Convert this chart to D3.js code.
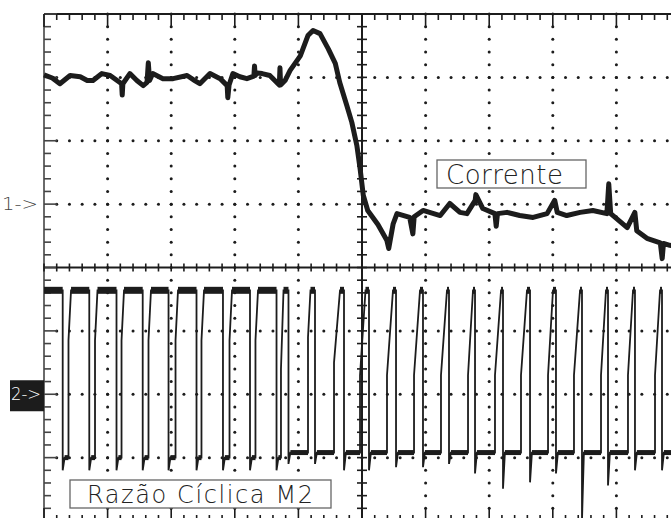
<!DOCTYPE html>
<html><head><meta charset="utf-8">
<script src="https://cdn.jsdelivr.net/npm/d3@7"></script>
<style>html,body{margin:0;padding:0;background:#fff;overflow:hidden}svg{display:block}</style>
</head><body>
<svg id="c" width="671" height="518"></svg>
<script>
// ---- DATA (screen divisions; time 0..10 div, values in div above each channel marker) ----
const channelLabels = ["1->", "2->"];
const traceNames = ["Corrente", "Razão Cíclica M2"];
const channelOffsets = [1, -2];   // marker position of each channel (div from centre)

// Channel 1: current
const corrente = [
 [0,2.04],[0.13,1.99],[0.25,1.90],[0.41,2.03],[0.57,2.01],[0.68,1.95],[0.77,1.95],[0.91,2.06],
 [1.04,2.03],[1.15,1.95],[1.22,1.90],[1.23,1.72],[1.24,1.90],[1.35,2.06],[1.46,1.95],[1.56,1.87],
 [1.62,1.92],[1.64,2.23],[1.66,1.95],[1.71,2.06],[1.87,1.98],[2.03,1.98],[2.25,2.03],[2.37,1.95],
 [2.45,1.90],[2.61,2.06],[2.77,1.98],[2.88,1.87],[2.89,1.68],[2.91,1.88],[2.97,2.06],[3.08,2.01],
 [3.19,1.98],[3.30,2.02],[3.31,2.18],[3.32,2.03],[3.35,2.07],[3.43,2.06],[3.55,2.03],[3.70,1.88],
 [3.71,2.15],[3.72,1.88],[3.79,1.95],[3.87,2.11],[4.03,2.34],[4.15,2.66],[4.23,2.74],[4.34,2.69],
 [4.47,2.45],[4.58,2.22],[4.65,1.92],[4.76,1.56],[4.84,1.29],[4.92,0.92],[4.97,0.56],[5.02,0.14],
 [5.09,-0.10],[5.25,-0.32],[5.39,-0.57],[5.42,-0.70],[5.49,-0.31],[5.55,-0.15],[5.75,-0.21],
 [5.80,-0.47],[5.82,-0.20],[5.96,-0.10],[6.23,-0.18],[6.38,0.01],[6.54,-0.13],[6.65,-0.15],
 [6.78,0.06],[6.79,0.15],[6.90,-0.07],[7.09,-0.15],[7.11,-0.35],[7.13,-0.15],[7.28,-0.13],
 [7.48,-0.18],[7.69,-0.21],[7.91,-0.15],[8.03,0.06],[8.07,-0.13],[8.22,-0.18],[8.43,-0.13],
 [8.63,-0.10],[8.85,-0.15],[8.88,0.32],[8.91,-0.15],[8.98,-0.21],[9.17,-0.37],[9.29,-0.13],
 [9.32,-0.42],[9.48,-0.54],[9.69,-0.61],[9.72,-0.86],[9.74,-0.62],[9.84,-0.65],[10,-0.68]
];

// Channel 2: gate duty cycle pulse train
const ch2High = 1.64;
const pulseRise = [null,0.385,0.802,1.219,1.643,2.068,2.476,2.917,3.325,3.726,4.151,4.560,4.969,5.393,5.818,6.242,6.667,7.091,7.500,7.925,8.333,8.758,9.182,9.607];
const pulseMid  = [null,0.85,0.85,0.85,0.85,0.85,0.85,0.85,0.85,0.40,0.90,0.50,0.30,0.30,0.30,0.30,0.30,0.30,0.30,0.30,0.30,0.30,0.30,0.30];
const pulseTop  = [0,0.425,0.841,1.258,1.682,2.107,2.516,2.956,3.365,3.766,4.190,4.654,5.055,5.487,5.912,6.336,6.745,7.186,7.594,8.003,8.428,8.836,9.261,9.686];
const pulseFall = [0.294,0.712,1.140,1.552,1.958,2.398,2.814,3.239,3.656,3.844,4.261,4.717,5.110,5.535,5.959,6.368,6.777,7.217,7.642,8.050,8.459,8.868,9.292,9.717];
const pulseDip  = [-1.2,-1.2,-1.2,-1.2,-1.2,-1.2,-1.2,-1.2,-1.2,-1.1,-1.1,-1.2,-1.2,-1.15,-1.15,-1.1,-1.25,-1.49,-1.39,-1.25,-1.99,-1.44,-1.2,-1.2];
const pulseLow  = [-1.0,-1.0,-1.0,-1.0,-1.0,-1.0,-1.0,-1.0,-1.0,-0.92,-0.92,-0.92,-0.92,-0.92,-0.92,-0.92,-0.92,-0.92,-0.92,-0.92,-0.92,-0.92,-0.92,-0.92];

// ---- LAYOUT ----
const svg = d3.select('#c');
const x = d3.scaleLinear().domain([0,10]).range([44,680]);
const y = d3.scaleLinear().domain([-4,4]).range([521,14]);
const ink = '#1c1c1c';
const font = "'DejaVu Sans', sans-serif";

// dotted grid
const gGrid = svg.append('g').attr('fill', ink);
const vLines = [1,2,3,4,6,7,8,9], hLines = [-3,-2,-1,1,2,3];
const ySteps = d3.range(-20,21).map(k=>k/5);
const xSteps = d3.range(0,51).map(k=>k/5);
vLines.forEach(i=>ySteps.forEach(v=>{
  gGrid.append('circle').attr('cx',x(i)).attr('cy',y(v)).attr('r',1.5);
}));
hLines.forEach(j=>xSteps.forEach(t=>{
  if (t===0) return;
  gGrid.append('circle').attr('cx',x(t)).attr('cy',y(j)).attr('r',1.5);
}));

// frame & centre axes
const gAx = svg.append('g').attr('stroke', ink).attr('stroke-width', 1.6);
gAx.append('line').attr('x1',x(0)).attr('x2',x(0)).attr('y1',y(4)).attr('y2',y(-4)).attr('stroke','#6a6a6a').attr('stroke-width',2);
gAx.append('line').attr('x1',x(0)).attr('x2',x(10)).attr('y1',y(4)).attr('y2',y(4)).attr('stroke-width',2);
gAx.append('line').attr('x1',x(0)).attr('x2',x(10)).attr('y1',y(-4)).attr('y2',y(-4)).attr('stroke-width',2);
gAx.append('line').attr('x1',x(0)).attr('x2',x(10)).attr('y1',y(0)).attr('y2',y(0)).attr('stroke-width',2);
gAx.append('line').attr('x1',x(5)).attr('x2',x(5)).attr('y1',y(4)).attr('y2',y(-4)).attr('stroke-width',2);
ySteps.forEach(v=>{
  const major = Math.abs(v-Math.round(v))<1e-6;
  gAx.append('line').attr('x1',x(0)).attr('x2',x(0)+(major?13:7)).attr('y1',y(v)).attr('y2',y(v)).attr('stroke','#444');
  gAx.append('line').attr('x1',x(5)-5).attr('x2',x(5)+5).attr('y1',y(v)).attr('y2',y(v));
});
xSteps.forEach(t=>{
  const major = Math.abs(t-Math.round(t))<1e-6;
  gAx.append('line').attr('x1',x(t)).attr('x2',x(t)).attr('y1',y(4)).attr('y2',y(4)+(major?13:6));
  gAx.append('line').attr('x1',x(t)).attr('x2',x(t)).attr('y1',y(-4)).attr('y2',y(-4)-(major?13:6));
  gAx.append('line').attr('x1',x(t)).attr('x2',x(t)).attr('y1',y(0)-4).attr('y2',y(0)+4);
});

// channel 1 trace
const line1 = d3.line().x(d=>x(d[0])).y(d=>y(d[1]+channelOffsets[0]));
svg.append('path').attr('d',line1(corrente)).attr('fill','none').attr('stroke',ink)
  .attr('stroke-width',5).attr('stroke-linejoin','round');

// channel 2 trace
const ch2Pts = [[0,ch2High]];
const highSegs = [], lowSegs = [];
for (let i=0;i<pulseFall.length;i++){
  if (pulseRise[i]!==null){
    ch2Pts.push([pulseRise[i],pulseLow[i-1]],[pulseRise[i],pulseMid[i]],[pulseTop[i],ch2High]);
  }
  ch2Pts.push([pulseFall[i],ch2High],[pulseFall[i],pulseDip[i]],[pulseFall[i]+0.03,pulseLow[i]]);
  highSegs.push([[pulseTop[i],ch2High],[pulseFall[i],ch2High]]);
  const nextRise = i+1<pulseRise.length ? pulseRise[i+1] : 10;
  lowSegs.push([[pulseFall[i]+0.03,pulseLow[i]],[nextRise,pulseLow[i]]]);
}
ch2Pts.push([10,pulseLow[pulseLow.length-1]]);
const line2 = d3.line().x(d=>x(d[0])).y(d=>y(d[1]+channelOffsets[1]));
svg.append('path').attr('d',line2(ch2Pts)).attr('fill','none').attr('stroke',ink).attr('stroke-width',1.8);
highSegs.forEach(s=>svg.append('path').attr('d',line2(s)).attr('stroke',ink).attr('stroke-width',7));
lowSegs.forEach(s=>svg.append('path').attr('d',line2(s)).attr('stroke',ink).attr('stroke-width',5));

// channel markers
svg.append('text').attr('x',2).attr('y',y(channelOffsets[0])+6).text(channelLabels[0])
  .attr('font-family',font).attr('font-weight',200).attr('font-size',17).attr('fill','#444')
  .attr('textLength',36).attr('lengthAdjust','spacingAndGlyphs');
svg.append('rect').attr('x',10).attr('y',y(channelOffsets[1])-14).attr('width',34).attr('height',31).attr('fill',ink);
svg.append('text').attr('x',11).attr('y',y(channelOffsets[1])+6).text(channelLabels[1])
  .attr('font-family',font).attr('font-weight',200).attr('font-size',17).attr('fill','#fff')
  .attr('textLength',30).attr('lengthAdjust','spacingAndGlyphs');

// trace name boxes
function tag(label, bx, by, bw, bh, tx, ty, tl, fs){
  svg.append('rect').attr('x',bx).attr('y',by).attr('width',bw).attr('height',bh)
    .attr('fill','#fff').attr('stroke','#666').attr('stroke-width',1.3);
  svg.append('text').attr('x',tx).attr('y',ty).text(label).attr('font-family',font).attr('font-weight',200)
    .attr('font-size',fs).attr('fill','#222').attr('textLength',tl).attr('lengthAdjust','spacing');
}
tag(traceNames[0], 437, 160, 149, 28, 446, 184, 117, 26);
tag(traceNames[1], 70, 480, 261, 28, 87, 503, 226, 24);
</script>
</body></html>
